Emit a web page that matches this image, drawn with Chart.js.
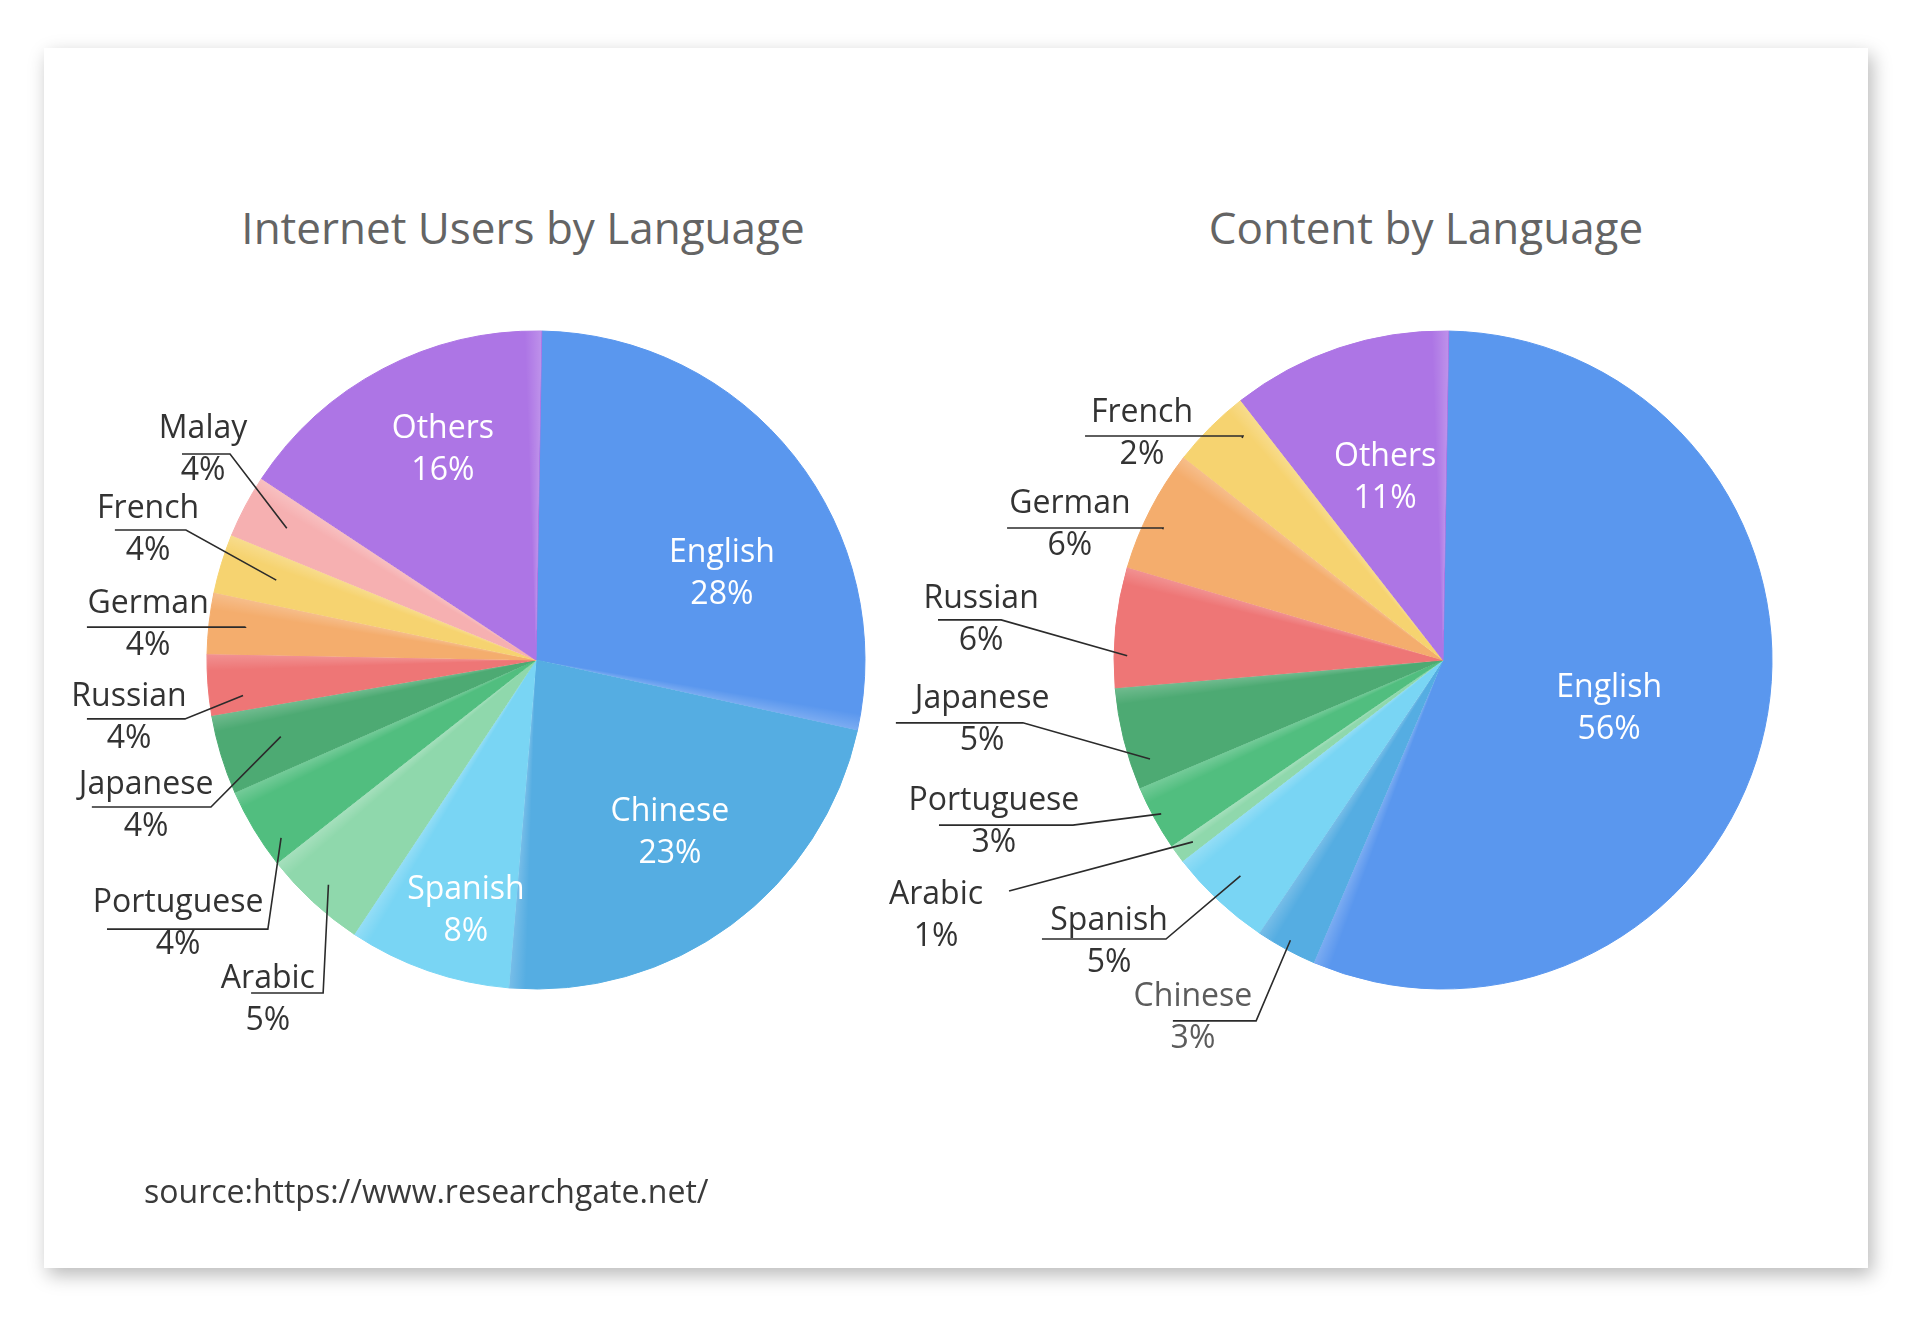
<!DOCTYPE html>
<html>
<head>
<meta charset="utf-8">
<script src="https://cdn.jsdelivr.net/npm/chart.js@4.4.1/dist/chart.umd.min.js"></script>
<style>
  html, body { margin: 0; padding: 0; background: #fff; }
  body { width: 1920px; height: 1317px; position: relative; overflow: hidden; font-family: "Open Sans", sans-serif; }
  .card { position: absolute; left: 44px; top: 48px; width: 1824px; height: 1220px; background: #fff;
          box-shadow: 4px 7px 18px rgba(0,0,0,0.28); }
  .title { position: absolute; top: 201px; width: 800px; text-align: center; font-size: 44px; line-height: 53px; color: #646464; }
  .source { position: absolute; left: 144px; top: 1172px; font-size: 32px; line-height: 37px; color: #3a3a3a; }
  canvas { position: absolute; top: 0; left: 0; }
</style>
</head>
<body>
<div class="card"></div>
<div class="title" style="left:123px">Internet Users by Language</div>
<div class="title" style="left:1026px">Content by Language</div>
<canvas id="usersChart" width="1920" height="1317"></canvas>
<canvas id="contentChart" width="1920" height="1317"></canvas>
<div class="source">source:https://www.researchgate.net/</div>
<script>
const usersLangs = ['English', 'Chinese', 'Spanish', 'Arabic', 'Portuguese', 'Japanese', 'Russian', 'German', 'French', 'Malay', 'Others'];
const usersShare = [28.2, 22.9, 8.0, 5.1, 4.0, 3.9, 3.0, 3.0, 2.9, 3.1, 16.0];
const usersPrinted = [28, 23, 8, 5, 4, 4, 4, 4, 4, 4, 16];

const contentLangs = ['English', 'Chinese', 'Spanish', 'Arabic', 'Portuguese', 'Japanese', 'Russian', 'German', 'French', 'Others'];
const contentShare = [56.1, 3.0, 5.1, 0.9, 3.2, 5.0, 5.9, 6.0, 3.9, 10.8];
const contentPrinted = [56, 3, 5, 1, 3, 5, 6, 6, 2, 11];

const langColors = {
  English: '#5a97ee', Chinese: '#55ade2', Spanish: '#79d5f4', Arabic: '#8fd8ac',
  Portuguese: '#51be7f', Japanese: '#4daa73', Russian: '#ee7676', German: '#f4ad6d',
  French: '#f6d370', Malay: '#f6b0b1', Others: '#ad75e5'
};

// label placement, in units of the pie radius from the pie centre
// x,y = text centre; u = underline x range, uy = underline y; k/da = where the leader starts in the slice
const usersLayout = {
  English:    { inside: true, x: 0.565, y: -0.261 },
  Chinese:    { inside: true, x: 0.407, y: 0.526 },
  Spanish:    { inside: true, x: -0.213, y: 0.763 },
  Arabic:     { x: -0.815, y: 1.033, u: [-0.866, -0.647], uy: 1.012, k: 0.93 },
  Portuguese: { x: -1.088, y: 0.802, u: [-1.304, -0.815], uy: 0.818, k: 0.945, da: -4 },
  Japanese:   { x: -1.185, y: 0.444, u: [-1.350, -0.988], uy: 0.447, k: 0.81 },
  Russian:    { x: -1.237, y: 0.176, u: [-1.365, -1.067], uy: 0.179, k: 0.897, da: -2.6 },
  German:     { x: -1.179, y: -0.106, u: [-1.365, -0.884], uy: -0.100, k: 0.89 },
  French:     { x: -1.179, y: -0.395, u: [-1.280, -1.064], uy: -0.395, k: 0.826 },
  Malay:      { x: -1.012, y: -0.638, u: [-1.076, -0.930], uy: -0.626, k: 0.857 },
  Others:     { inside: true, x: -0.283, y: -0.638 }
};
const contentLayout = {
  English:    { inside: true, x: 0.505, y: 0.149 },
  Chinese:    { x: -0.760, y: 1.087, u: [-0.821, -0.568], uy: 1.097, k: 0.97, color: '#5c5c5c' },
  Spanish:    { x: -1.015, y: 0.856, u: [-1.219, -0.842], uy: 0.848, k: 0.9 },
  Arabic:     { x: -1.541, y: 0.777, u: [-1.319, -1.319], uy: 0.702, k: 0.94 },
  Portuguese: { x: -1.365, y: 0.491, u: [-1.532, -1.125], uy: 0.502, k: 0.976 },
  Japanese:   { x: -1.401, y: 0.181, u: [-1.663, -1.277], uy: 0.191, k: 0.94, da: -4.8 },
  Russian:    { x: -1.404, y: -0.122, u: [-1.535, -1.343], uy: -0.122, k: 0.96, da: -5 },
  German:     { x: -1.134, y: -0.410, u: [-1.325, -0.851], uy: -0.401, k: 0.94, da: -2.2 },
  French:     { x: -0.915, y: -0.687, u: [-1.088, -0.608], uy: -0.681, k: 0.91, da: 2.8 },
  Others:     { inside: true, x: -0.176, y: -0.553 }
};

// soft light band along the closing edge of each slice
const sliceShade = {
  id: 'sliceShade',
  afterDatasetsDraw(chart) {
    const ctx = chart.ctx;
    chart.getDatasetMeta(0).data.forEach(arc => {
      const { x, y, startAngle, endAngle, outerRadius } = arc.getProps(['x', 'y', 'startAngle', 'endAngle', 'outerRadius'], true);
      const w = Math.min(3 * Math.PI / 180, (endAngle - startAngle) * 0.45);
      const g = ctx.createConicGradient(endAngle - w, x, y);
      const f = w / (2 * Math.PI);
      g.addColorStop(0, 'rgba(255,255,255,0)');
      g.addColorStop(f * 0.6, 'rgba(255,255,255,0.12)');
      g.addColorStop(f * 0.97, 'rgba(255,255,255,0.2)');
      g.addColorStop(f, 'rgba(255,255,255,0)');
      g.addColorStop(1, 'rgba(255,255,255,0)');
      ctx.save();
      ctx.beginPath();
      ctx.moveTo(x, y);
      ctx.arc(x, y, outerRadius, endAngle - w, endAngle);
      ctx.closePath();
      ctx.fillStyle = g;
      ctx.fill();
      ctx.restore();
    });
  }
};

const sliceLabels = {
  id: 'sliceLabels',
  afterDraw(chart, args, opts) {
    const ctx = chart.ctx;
    const langs = chart.data.labels;
    ctx.save();
    ctx.font = '32px "Open Sans", sans-serif';
    ctx.textAlign = 'center';
    ctx.textBaseline = 'middle';
    chart.getDatasetMeta(0).data.forEach((arc, i) => {
      const { x, y, startAngle, endAngle, outerRadius: R } = arc.getProps(['x', 'y', 'startAngle', 'endAngle', 'outerRadius'], true);
      const lay = opts.layout[langs[i]];
      const tx = x + lay.x * R, ty = y + lay.y * R;
      ctx.fillStyle = lay.inside ? '#ffffff' : (lay.color || '#333333');
      ctx.fillText(langs[i], tx, ty - 21);
      ctx.fillText(opts.printed[i] + '%', tx, ty + 21);
      if (lay.inside) return;
      const a = (startAngle + endAngle) / 2 + (lay.da || 0) * Math.PI / 180;
      ctx.beginPath();
      ctx.moveTo(x + Math.cos(a) * lay.k * R, y + Math.sin(a) * lay.k * R);
      ctx.lineTo(x + lay.u[1] * R, y + lay.uy * R);
      ctx.lineTo(x + lay.u[0] * R, y + lay.uy * R);
      ctx.strokeStyle = '#2b2b2b';
      ctx.lineWidth = 1.6;
      ctx.stroke();
    });
    ctx.restore();
  }
};

function makePie(id, langs, share, printed, layout, padding) {
  const colors = langs.map(l => langColors[l]);
  return new Chart(document.getElementById(id).getContext('2d'), {
    type: 'pie',
    data: {
      labels: langs,
      datasets: [{
        data: share,
        backgroundColor: colors,
        borderColor: colors,
        borderWidth: 1
      }]
    },
    options: {
      responsive: false,
      animation: false,
      rotation: 1,
      radius: 329,
      layout: { padding: padding },
      events: [],
      plugins: {
        legend: { display: false },
        tooltip: { enabled: false },
        sliceLabels: { layout: layout, printed: printed }
      }
    },
    plugins: [sliceShade, sliceLabels]
  });
}

makePie('usersChart', usersLangs, usersShare, usersPrinted, usersLayout, { left: 196, right: 1044, top: 320, bottom: 317 });
makePie('contentChart', contentLangs, contentShare, contentPrinted, contentLayout, { left: 1103, right: 137, top: 320, bottom: 317 });
</script>
</body>
</html>
